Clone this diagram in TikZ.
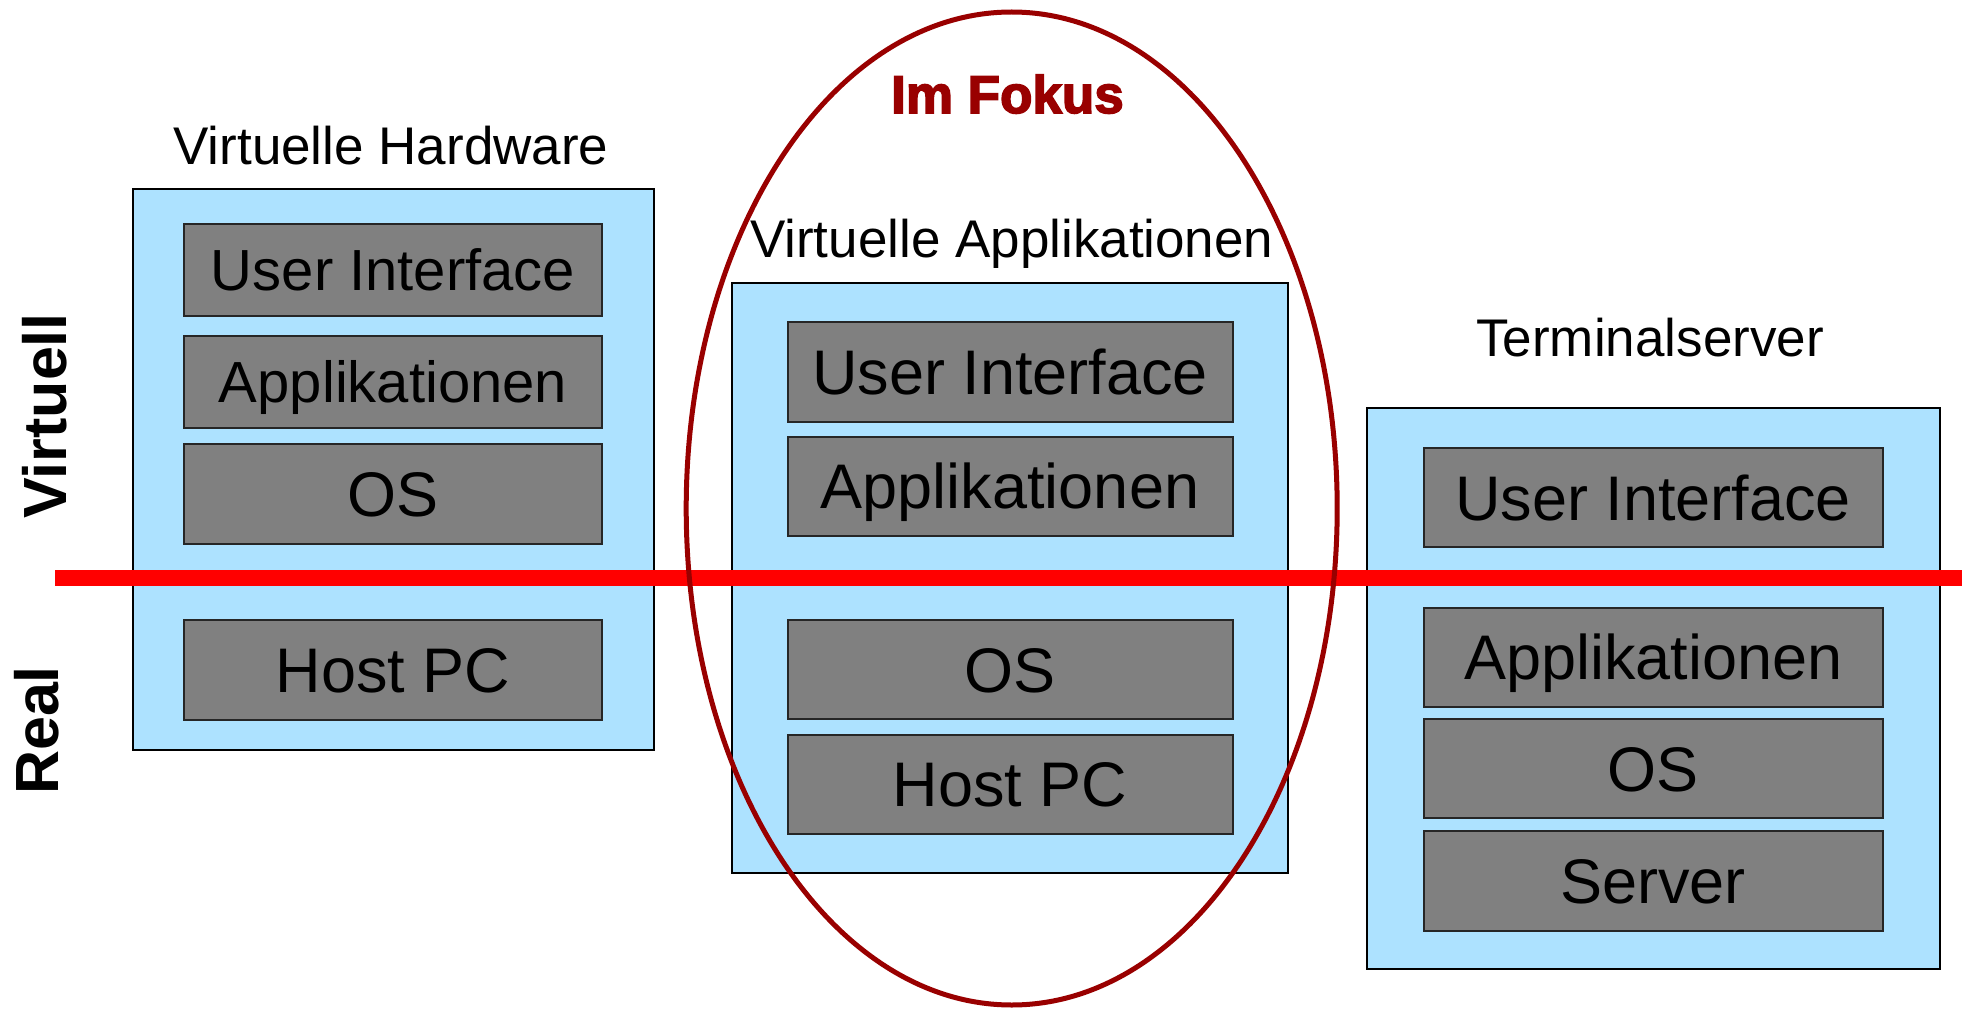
\documentclass[tikz,border=0pt]{standalone}
\usepackage{fontspec}
\usetikzlibrary{shapes.geometric}
\setmainfont{Liberation Sans}
\definecolor{boxblue}{RGB}{173,226,255}
\definecolor{layergray}{RGB}{128,128,128}
\definecolor{focusred}{RGB}{153,0,0}
\begin{document}
\begin{tikzpicture}[x=1pt,y=-1pt,
  outerbox/.style={draw=black,line width=2pt,fill=boxblue,inner sep=0pt},
  layerbox/.style={draw=black!85,line width=2pt,fill=layergray,inner sep=0pt,text=black},
  layerL/.style={layerbox,minimum width=417.4pt,font=\fontsize{58}{60}\selectfont,text height=41.5pt,text depth=0pt},
  layerLbig/.style={layerbox,minimum width=417.4pt,font=\fontsize{63}{66}\selectfont,text height=45.1pt,text depth=0pt},
  layerM/.style={layerbox,minimum width=445pt,font=\fontsize{63}{66}\selectfont,text height=45.1pt,text depth=0pt},
  layerR/.style={layerbox,minimum width=459pt,font=\fontsize{63}{66}\selectfont,text height=45.1pt,text depth=0pt},
  title/.style={font=\fontsize{53}{56}\selectfont,anchor=base,inner sep=0pt},
  side/.style={font=\fontsize{61}{64}\selectfont\bfseries,rotate=90,anchor=base,inner sep=0pt}]
\useasboundingbox (0,0) rectangle (1968,1011);

% outer boxes
\node[outerbox,minimum width=520.6pt,minimum height=560pt] (hw) at (393.3,469.5) {};
\node[outerbox,minimum width=556pt,minimum height=590pt] (va) at (1010,578) {};
\node[outerbox,minimum width=572.7pt,minimum height=560.6pt] (ts) at (1653.2,688.7) {};

% left column layers
\node[layerL,minimum height=92.4pt] (hwui) at (393.1,269.8) {User Interface};
\node[layerL,minimum height=92.8pt] (hwapp) at (393.1,382) {Applikationen};
\node[layerLbig,minimum height=99.8pt] (hwos) at (393.1,493.9) {OS};
\node[layerLbig,minimum height=99.3pt] (hwhost) at (393.1,669.9) {Host PC};

% middle column layers
\node[layerM,minimum height=99.3pt] (vaui) at (1010,372) {User Interface};
\node[layerM,minimum height=98.8pt] (vaapp) at (1010,486.4) {Applikationen};
\node[layerM,minimum height=99pt] (vaos) at (1010,669.5) {OS};
\node[layerM,minimum height=98.6pt] (vahost) at (1010,784.3) {Host PC};

% right column layers
\node[layerR,minimum height=99.3pt] (tsui) at (1653.2,497.5) {User Interface};
\node[layerR,minimum height=98.9pt] (tsapp) at (1653.2,657.3) {Applikationen};
\node[layerR,minimum height=98.9pt] (tsos) at (1653.2,768.7) {OS};
\node[layerR,minimum height=99.8pt] (tssrv) at (1653.2,881.1) {Server};

% red divider line
\coordinate (lineL) at (55,578);
\coordinate (lineR) at (1962,578);
\draw[red,line width=15.5pt] (lineL) -- (lineR);

% focus ellipse
\node[draw=focusred,line width=5pt,ellipse,minimum width=651pt,minimum height=993pt,inner sep=0pt] (focus) at (1011.7,508.5) {};

% titles
\node[title] (thw) at (391,164.2) {Virtuelle Hardware};
\node[title] (tva) at (1011.8,258) {Virtuelle Applikationen};
\node[title] (tts) at (1650,356.4) {Terminalserver};
\node[font=\fontsize{53}{56}\selectfont\bfseries\addfontfeature{FakeBold=3},text=focusred,anchor=base,inner sep=0pt] (fokus) at (1007.5,113) {Im Fokus};

% side labels
\node[side] (virt) at (66,416) {Virtuell};
\node[side] (real) at (58,730.5) {Real};
\end{tikzpicture}
\end{document}
